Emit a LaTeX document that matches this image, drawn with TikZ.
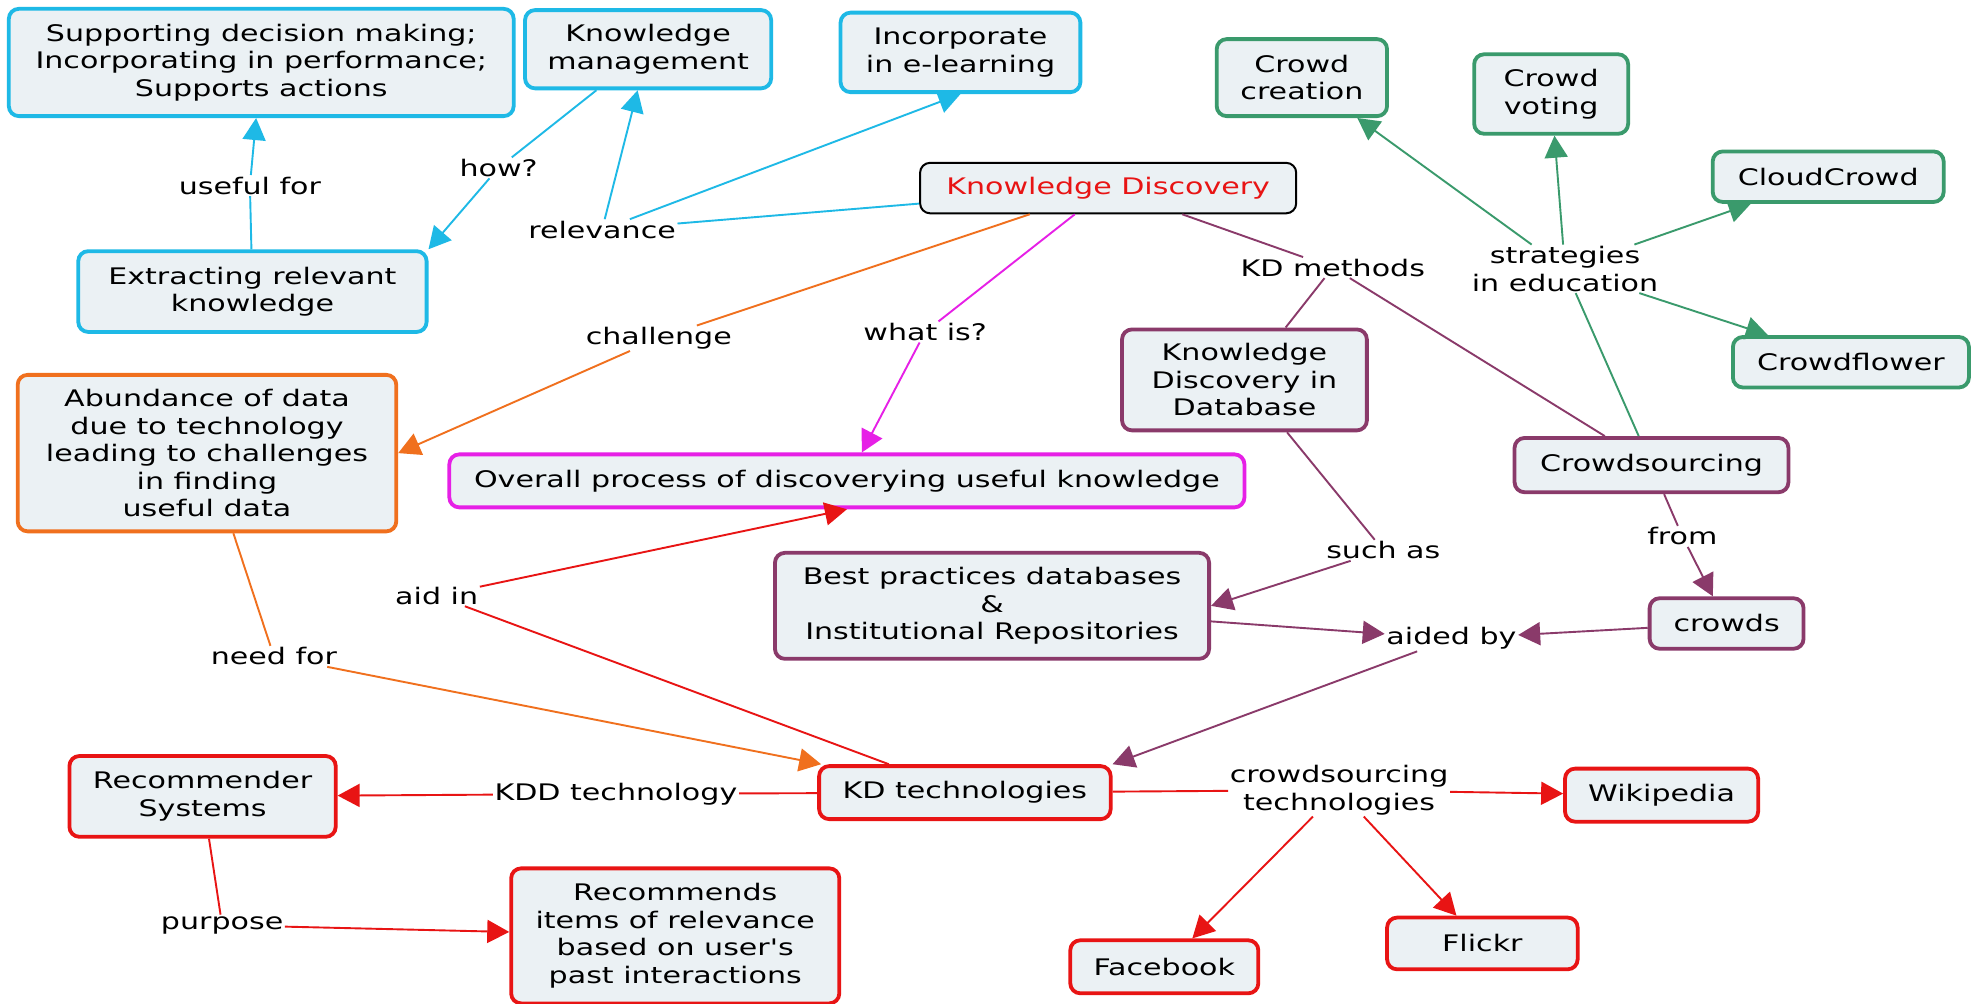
\documentclass[tikz,border=0pt]{standalone}
\usepackage{fontspec}
\setmainfont[FakeStretch=1.32,Ligatures=TeXOff]{DejaVu Sans}
\usetikzlibrary{arrows.meta}
\definecolor{cyanc}{HTML}{1EB9E6}
\definecolor{orangec}{HTML}{F0701E}
\definecolor{magc}{HTML}{E620E6}
\definecolor{purc}{HTML}{8A3A6A}
\definecolor{grnc}{HTML}{3A9A6C}
\definecolor{redc}{HTML}{E81414}
\definecolor{fillc}{HTML}{EBF1F4}
\begin{document}
\begin{tikzpicture}[x=1.262pt,y=-1.262pt,
  every node/.style={font=\fontsize{22.8}{27.5}\selectfont},
  box/.style 2 args={draw, rounded corners=10pt, fill=fillc, line width=3.8pt,
    align=center, inner sep=0pt, minimum width={#1*1.262pt}, minimum height={#2*1.262pt}},
  lab/.style={align=center, inner sep=1.5pt},
  con/.style={line width=1.9pt},
  arr/.style={con, -{Triangle[length=22pt,width=23pt]}},
]
\fill[white] (0,0) rectangle (1568,795);
\useasboundingbox (0,0) rectangle (1568,795);

% blue
\node[box={400}{85}, draw=cyanc] (SDM) at (207,49.5) {Supporting decision making;\\Incorporating in performance;\\Supports actions};
\node[box={195}{62}, draw=cyanc] (KM) at (513.5,39) {Knowledge\\management};
\node[box={190}{63}, draw=cyanc] (IEL) at (761,41.5) {Incorporate\\in e-learning};
\node[box={276}{64}, draw=cyanc] (ERK) at (200,231) {Extracting relevant\\knowledge};
% center
\node[box={298}{40}, draw=black, line width=2pt, text=redc] (KD) at (878,149) {Knowledge Discovery};
% orange / magenta
\node[box={300}{124}, draw=orangec] (ABD) at (164,359) {Abundance of data\\due to technology\\leading to challenges\\in finding\\useful data};
\node[box={630}{42}, draw=magc] (OVR) at (671,381) {Overall process of discoverying useful knowledge};
% purple
\node[box={194}{80}, draw=purc] (KDD) at (986,301) {Knowledge\\Discovery in\\Database};
\node[box={217}{43}, draw=purc] (CS) at (1308.5,368.5) {Crowdsourcing};
\node[box={344}{84}, draw=purc] (BP) at (786,480) {Best practices databases\\\&\\Institutional Repositories};
\node[box={122}{40}, draw=purc] (CR) at (1368,494) {crowds};
% green
\node[box={135}{61}, draw=grnc] (CC) at (1031.5,61.5) {Crowd\\creation};
\node[box={122}{63}, draw=grnc] (CV) at (1229,74.5) {Crowd\\voting};
\node[box={183}{40}, draw=grnc] (CLC) at (1448.5,140) {CloudCrowd};
\node[box={187}{40}, draw=grnc] (CF) at (1466.5,287) {Crowdflower};
% red
\node[box={231}{42}, draw=redc] (KDT) at (764.5,628) {KD technologies};
\node[box={211}{64}, draw=redc] (RS) at (160.5,631) {Recommender\\Systems};
\node[box={260}{107}, draw=redc] (REC) at (535,741.5) {Recommends\\items of relevance\\based on user's\\past interactions};
\node[box={153}{42}, draw=redc] (WIKI) at (1316.5,630) {Wikipedia};
\node[box={149}{42}, draw=redc] (FB) at (922.5,766) {Facebook};
\node[box={151}{41}, draw=redc] (FL) at (1174.5,747.5) {Flickr};

% labels
\node[lab] (usefulfor) at (198,147) {useful for};
\node[lab] (how) at (395,133) {how?};
\node[lab] (relevance) at (477,182) {relevance};
\node[lab] (challenge) at (522,268) {challenge};
\node[lab] (whatis) at (733,263) {what is?};
\node[lab] (kdmethods) at (1056,212) {KD methods};
\node[lab] (strategies) at (1240,213) {strategies\\in education};
\node[lab] (suchas) at (1096,436) {such as};
\node[lab] (from) at (1333,425) {from};
\node[lab] (aidedby) at (1150,506) {aided by};
\node[lab] (needfor) at (217,520) {need for};
\node[lab] (aidin) at (346,472) {aid in};
\node[lab] (kddtech) at (488,629) {KDD technology};
\node[lab] (purpose) at (176,733) {purpose};
\node[lab] (cstech) at (1061,626) {crowdsourcing\\technologies};

% blue connectors
\draw[con,cyanc] (ERK) -- (usefulfor);
\draw[arr,cyanc] (usefulfor) -- (SDM);
\draw[con,cyanc] (KM) -- (how);
\draw[arr,cyanc] (how) -- (ERK.north east);
\draw[con,cyanc] (KD) -- (relevance);
\draw[arr,cyanc] (relevance) -- (KM);
\draw[arr,cyanc] (relevance) -- (IEL.south);
% orange
\draw[con,orangec] (KD) -- (challenge);
\draw[arr,orangec] (challenge) -- (ABD.east);
\draw[con,orangec] (ABD) -- (needfor);
\draw[arr,orangec] (needfor) -- (KDT);
% magenta
\draw[con,magc] (KD) -- (whatis);
\draw[arr,magc] (whatis) -- (OVR);
% purple
\draw[con,purc] (KD) -- (kdmethods);
\draw[con,purc] (kdmethods) -- (KDD);
\draw[con,purc] (kdmethods) -- (CS);
\draw[con,purc] (KDD) -- (suchas);
\draw[arr,purc] (suchas) -- (BP.east);
\draw[con,purc] (CS) -- (from);
\draw[arr,purc] (from) -- (CR);
\draw[arr,purc] (BP) -- (aidedby);
\draw[arr,purc] (CR) -- (aidedby);
\draw[arr,purc] (aidedby) -- (KDT.north east);
% green
\draw[con,grnc] (CS) -- (strategies);
\draw[arr,grnc] (strategies) -- (CC);
\draw[arr,grnc] (strategies) -- (CV);
\draw[arr,grnc] (strategies) -- (CLC);
\draw[arr,grnc] (strategies) -- (CF);
% red
\draw[con,redc] (KDT) -- (aidin);
\draw[arr,redc] (aidin) -- (OVR.south);
\draw[con,redc] (KDT) -- (kddtech);
\draw[arr,redc] (kddtech) -- (RS);
\draw[con,redc] (RS) -- (purpose);
\draw[arr,redc] (purpose) -- (REC);
\draw[con,redc] (KDT) -- (cstech);
\draw[arr,redc] (cstech) -- (WIKI);
\draw[arr,redc] (cstech) -- (FB);
\draw[arr,redc] (cstech) -- (FL);
\end{tikzpicture}
\end{document}
